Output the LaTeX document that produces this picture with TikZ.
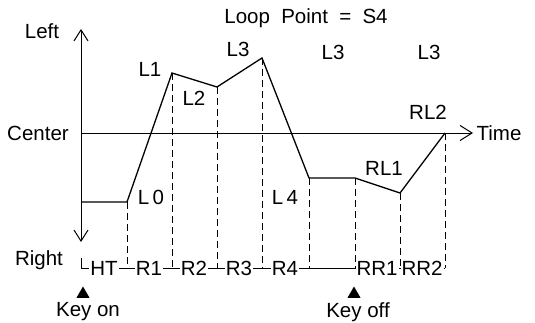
\documentclass[tikz,border=0pt]{standalone}
\usepackage{fontspec}
\setmainfont{Liberation Sans}
\usetikzlibrary{arrows.meta, positioning, shapes.geometric}

\begin{document}
\begin{tikzpicture}[x=1pt, y=-1pt,
    lbl/.style={font=\fontsize{20.5}{24}\selectfont, inner sep=1pt},
    dur/.style={font=\fontsize{20.5}{24}\selectfont, fill=white, inner sep=1pt},
    wave/.style={line width=1.3pt, line join=miter},
    axis/.style={line width=1pt, -{Straight Barb[length=11pt, width=14pt]}},
    timeaxis/.style={line width=0.6pt, -{Straight Barb[length=12pt, width=15pt, line width=1pt]}},
    drop/.style={dash pattern=on 7pt off 4pt, line width=0.9pt},
    keytri/.style={regular polygon, regular polygon sides=3, fill=black, minimum size=15pt, inner sep=0pt}
]
\useasboundingbox (0,0) rectangle (535,323);

\coordinate (org) at (81,133);
\coordinate (ytop) at (81,29);
\coordinate (ybot) at (81,242);
\coordinate (xend) at (473,133);

\coordinate (s0) at (81,202);
\coordinate (p0) at (127,202);
\coordinate (p1) at (172,73);
\coordinate (p2) at (217,87);
\coordinate (p3) at (262,58);
\coordinate (p4) at (309,178);
\coordinate (k) at (355,178);
\coordinate (q1) at (400,193);
\coordinate (q2) at (445,133);

\coordinate (b0) at (81,268);
\coordinate (b1) at (127,268);
\coordinate (b2) at (172,268);
\coordinate (b3) at (217,268);
\coordinate (b4) at (262,268);
\coordinate (b5) at (309,268);
\coordinate (b6) at (355,268);
\coordinate (b7) at (400,268);
\coordinate (b8) at (445,268);

\draw[axis] (org) -- (ytop);
\draw[axis] (org) -- (ybot);
\draw[timeaxis] (org) -- (xend);
\draw[line width=0.8pt] (81,258) -- (b0) -- (b8);

\foreach \p/\b in {p0/b1, p1/b2, p2/b3, p3/b4, p4/b5, k/b6, q1/b7, q2/b8}
    \draw[drop] (\p) -- (\b);

\draw[wave] (s0) -- (p0) -- (p1) -- (p2) -- (p3) -- (p4) -- (k) -- (q1) -- (q2);

\node[lbl] (left) at (42,31) {Left};
\node[lbl] (center) at (38,133) {Center};
\node[lbl] (right) at (39,260) {Right};
\node[lbl] (time) at (499,133) {Time};
\node[lbl] (loop) at (306,18) {Loop\hspace{0.55em}Point\hspace{0.55em}=\hspace{0.55em}S4};
\node[lbl] (top1) at (333,52) {L3};
\node[lbl] (top2) at (429,52) {L3};

\node[lbl] (l0) at (151,197) {L\,0};
\node[lbl] (l1) at (150,69) {L1};
\node[lbl] (l2) at (194,98) {L2};
\node[lbl] (l3) at (238,49) {L3};
\node[lbl] (l4) at (285,197) {L\,4};
\node[lbl] (rl1) at (384,168) {RL1};
\node[lbl] (rl2) at (428,112) {RL2};

\node[dur] (ht) at (104,268) {HT};
\node[dur] (r1) at (149,268) {R1};
\node[dur] (r2) at (194,268) {R2};
\node[dur] (r3) at (239,268) {R3};
\node[dur] (r4) at (285,268) {R4};
\node[dur] (rr1) at (377,268) {RR1};
\node[dur] (rr2) at (422,268) {RR2};

\node[keytri] (keyon) at (83,294) {};
\node[lbl] (keyontxt) at (88,312) {Key on};
\node[keytri] (keyoff) at (354,294) {};
\node[lbl] (keyofftxt) at (358,312) {Key off};
\end{tikzpicture}
\end{document}
